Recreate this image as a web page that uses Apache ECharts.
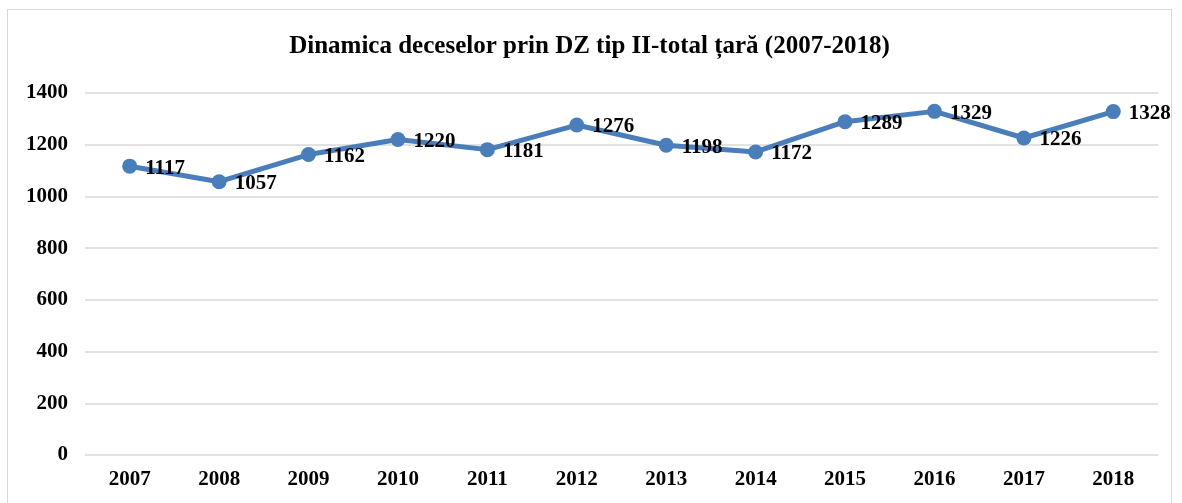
<!DOCTYPE html>
<html>
<head>
<meta charset="utf-8">
<script src="https://cdn.jsdelivr.net/npm/echarts@6/dist/echarts.min.js"></script>
<style>
  html, body { margin: 0; padding: 0; background: #fff; }
  #chart { position: absolute; left: 7px; top: 9px; width: 1165px; height: 500px; border: 1px solid #d9d9d9; box-sizing: border-box; }
</style>
</head>
<body>
<div id="chart"></div>
<script>
const years = ["2007", "2008", "2009", "2010", "2011", "2012", "2013", "2014", "2015", "2016", "2017", "2018"];
const deaths = [1117, 1057, 1162, 1220, 1181, 1276, 1198, 1172, 1289, 1329, 1226, 1328];

const serif = '"Liberation Serif", "Times New Roman", serif';
const chart = echarts.init(document.getElementById("chart"));
chart.setOption({
  animation: false,
  title: {
    text: "Dinamica deceselor prin DZ tip II-total țară (2007-2018)",
    left: "center",
    top: 19,
    textStyle: { fontFamily: serif, fontWeight: "bold", fontSize: 25, color: "#000" }
  },
  grid: { left: 77, right: 13, top: 83, bottom: 53, containLabel: false },
  xAxis: {
    type: "category",
    data: years,
    axisLine: { show: false },
    axisTick: { show: false },
    axisLabel: { fontFamily: serif, fontWeight: "bold", fontSize: 21, color: "#000", margin: 14 }
  },
  yAxis: {
    type: "value",
    min: 0,
    max: 1400,
    interval: 200,
    axisLine: { show: false },
    axisTick: { show: false },
    axisLabel: { fontFamily: serif, fontWeight: "bold", fontSize: 21, color: "#000", margin: 17, formatter: (v) => String(v) },
    splitLine: { lineStyle: { color: "#d9d9d9", width: 1.5 } }
  },
  series: [{
    type: "line",
    data: deaths,
    symbol: "circle",
    symbolSize: 15,
    lineStyle: { color: "#4a7ebb", width: 5 },
    itemStyle: { color: "#4a7ebb" },
    label: {
      show: true,
      position: "right",
      distance: 8,
      offset: [0, 2],
      fontFamily: serif,
      fontWeight: "bold",
      fontSize: 21,
      color: "#000"
    }
  }]
});
</script>
</body>
</html>
